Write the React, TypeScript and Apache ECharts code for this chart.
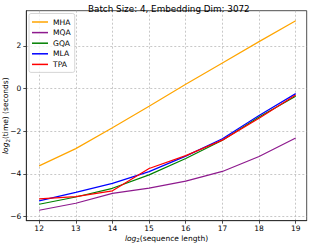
import React, { useEffect, useRef } from "react";
import * as echarts from "echarts";

const seqLog2 = [12, 13, 14, 15, 16, 17, 18, 19];
const mha = [-3.63, -2.82, -1.84, -0.83, 0.2, 1.2, 2.2, 3.18];
const mqa = [-5.71, -5.38, -4.92, -4.67, -4.34, -3.89, -3.19, -2.32];
const gqa = [-5.43, -5.09, -4.68, -4.05, -3.28, -2.43, -1.34, -0.36];
const mla = [-5.27, -4.87, -4.45, -3.9, -3.17, -2.36, -1.27, -0.24];
const tpa = [-5.18, -5.07, -4.8, -3.75, -3.15, -2.42, -1.39, -0.3];
const xTicks = [12, 13, 14, 15, 16, 17, 18, 19];
const yTicks = [-6, -4, -2, 0, 2];

const seriesDefs = [
  { name: "MHA", data: mha, color: "#FFA500" },
  { name: "MQA", data: mqa, color: "#8E1A8E" },
  { name: "GQA", data: gqa, color: "#008000" },
  { name: "MLA", data: mla, color: "#0000FF" },
  { name: "TPA", data: tpa, color: "#FF0000" },
];

const FONT = "DejaVu Sans";

export default function App() {
  const ref = useRef<HTMLDivElement>(null);
  useEffect(() => {
    const chart = echarts.init(ref.current!, null, { renderer: "svg" });
    const rich = {
      i: { fontFamily: FONT, fontStyle: "italic", fontSize: 7.5, color: "#000" },
      s: { fontFamily: FONT, fontStyle: "normal", fontSize: 5.5, color: "#000", padding: [4, 0, 0, 0] },
      n: { fontFamily: FONT, fontSize: 7.5, color: "#000" },
    };
    const split = { show: true, showMinLine: true, showMaxLine: true, lineStyle: { color: "#b0b0b0", type: [2, 2], width: 0.7 } };
    chart.setOption({
      animation: false,
      title: {
        text: "Batch Size: 4, Embedding Dim: 3072",
        left: 83,
        top: -1,
        textStyle: { fontFamily: FONT, fontSize: 8.8, fontWeight: "normal", color: "#000" },
      },
      legend: {
        orient: "vertical",
        left: 29,
        top: 13.5,
        padding: [4.5, 4, 4, 3],
        itemGap: 2.6,
        itemWidth: 16,
        itemHeight: 1.5,
        icon: "rect",
        borderColor: "#cccccc",
        borderWidth: 0.8,
        borderRadius: 2,
        backgroundColor: "rgba(255,255,255,0.8)",
        textStyle: { fontFamily: FONT, fontSize: 7.6, color: "#000", padding: [0, 0, 0, 0] },
        data: seriesDefs.map((s) => s.name),
      },
      grid: {
        left: 26.3,
        right: 2.3,
        top: 10.7,
        bottom: 22.3,
        containLabel: false,
        outerBoundsMode: "none",
        show: true,
        borderColor: "#222",
        borderWidth: 0.8,
        backgroundColor: "transparent",
      },
      xAxis: {
        type: "value",
        min: 11.65,
        max: 19.3,
        name: "{i|log}{s|2}{n|(sequence length)}",
        nameLocation: "middle",
        nameGap: 12.5,
        nameMoveOverlap: false,
        nameTextStyle: { rich },
        axisLine: { show: true, onZero: false, lineStyle: { color: "#222", width: 0.8 } },
        axisTick: { show: true, customValues: xTicks, length: 3, lineStyle: { color: "#222", width: 0.8 } },
        axisLabel: {
          customValues: xTicks,
          showMinLabel: true,
          showMaxLabel: true,
          margin: 4,
          fontFamily: FONT,
          fontSize: 7.5,
          color: "#000",
        },
        splitLine: split,
      },
      yAxis: {
        type: "value",
        min: -6.2,
        max: 3.65,
        name: "{i|log}{s|2}{n|(time) (seconds)}",
        nameLocation: "middle",
        nameGap: 15.5,
        nameMoveOverlap: false,
        nameRotate: 90,
        nameTextStyle: { rich },
        axisLine: { show: true, onZero: false, lineStyle: { color: "#222", width: 0.8 } },
        axisTick: { show: true, customValues: yTicks, length: 3, lineStyle: { color: "#222", width: 0.8 } },
        axisLabel: {
          customValues: yTicks,
          showMinLabel: true,
          showMaxLabel: true,
          margin: 5,
          fontFamily: FONT,
          fontSize: 7.5,
          color: "#000",
          formatter: (v: number) => String(v).replace("-", "\u2212"),
        },
        splitLine: split,
      },
      series: seriesDefs.map((s) => ({
        name: s.name,
        type: "line",
        data: seqLog2.map((x, i) => [x, s.data[i]]),
        showSymbol: false,
        symbol: "none",
        color: s.color,
        lineStyle: { color: s.color, width: 1.2 },
      })),
    });
    return () => chart.dispose();
  }, []);
  return <div ref={ref} style={{ width: 309, height: 243, position: "absolute", left: 0, top: 0 }} />;
}
